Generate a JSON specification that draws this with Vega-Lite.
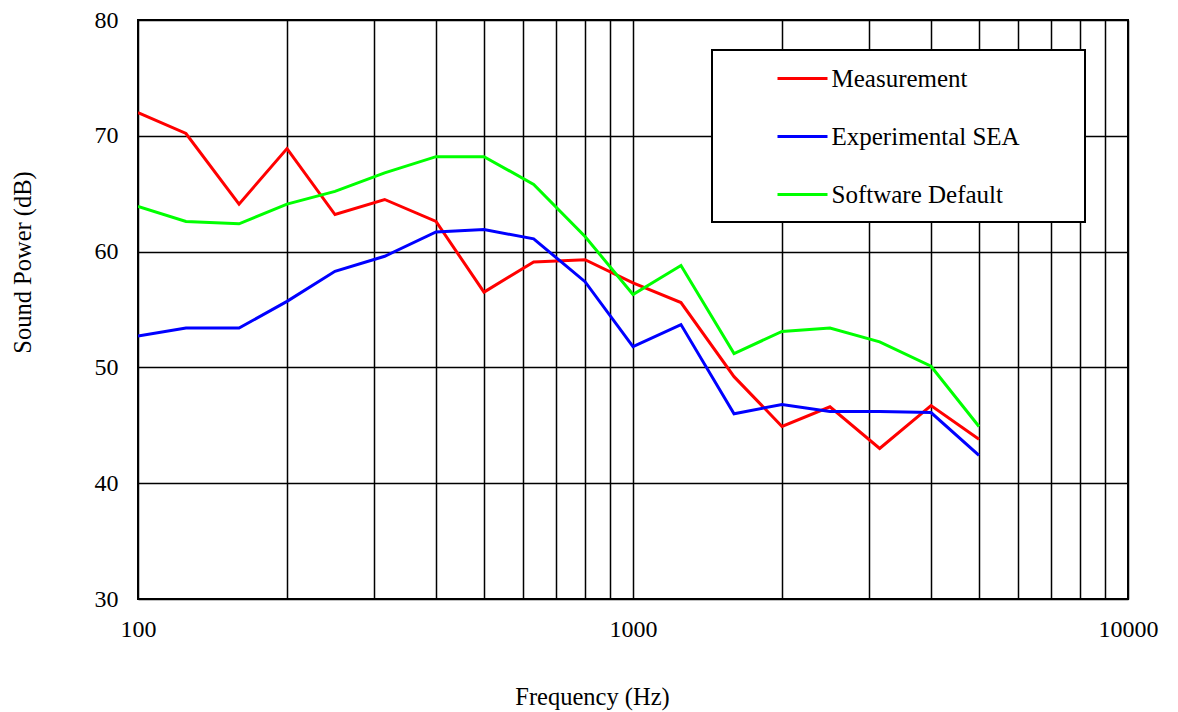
{
  "$schema": "https://vega.github.io/schema/vega-lite/v6.json",
  "width": 990,
  "height": 579,
  "autosize": "none",
  "padding": {"left": 138, "top": 20, "right": 50, "bottom": 113},
  "background": "white",
  "config": {
    "font": "Liberation Serif",
    "view": {"stroke": "black", "strokeWidth": 2},
    "axis": {
      "domain": false,
      "ticks": false,
      "grid": true,
      "gridColor": "black",
      "gridOpacity": 1,
      "gridWidth": 1.5,
      "labelFont": "Liberation Serif",
      "labelFontSize": 24,
      "labelColor": "black",
      "titleFont": "Liberation Serif",
      "titleFontSize": 24.5,
      "titleFontWeight": "normal",
      "titleColor": "black"
    },
    "legend": {
      "labelFont": "Liberation Serif",
      "labelFontSize": 25,
      "labelColor": "black",
      "labelLimit": 500
    }
  },
  "data": {
    "values": [
      {"freq": 100, "series": "Measurement", "value": 72.0},
      {"freq": 125, "series": "Measurement", "value": 70.2},
      {"freq": 160, "series": "Measurement", "value": 64.1},
      {"freq": 200, "series": "Measurement", "value": 68.9},
      {"freq": 250, "series": "Measurement", "value": 63.2},
      {"freq": 315, "series": "Measurement", "value": 64.5},
      {"freq": 400, "series": "Measurement", "value": 62.6},
      {"freq": 500, "series": "Measurement", "value": 56.5},
      {"freq": 630, "series": "Measurement", "value": 59.1},
      {"freq": 800, "series": "Measurement", "value": 59.3},
      {"freq": 1000, "series": "Measurement", "value": 57.3},
      {"freq": 1250, "series": "Measurement", "value": 55.6},
      {"freq": 1600, "series": "Measurement", "value": 49.2},
      {"freq": 2000, "series": "Measurement", "value": 44.9},
      {"freq": 2500, "series": "Measurement", "value": 46.6},
      {"freq": 3150, "series": "Measurement", "value": 43.0},
      {"freq": 4000, "series": "Measurement", "value": 46.7},
      {"freq": 5000, "series": "Measurement", "value": 43.8},
      {"freq": 100, "series": "Experimental SEA", "value": 52.7},
      {"freq": 125, "series": "Experimental SEA", "value": 53.4},
      {"freq": 160, "series": "Experimental SEA", "value": 53.4},
      {"freq": 200, "series": "Experimental SEA", "value": 55.7},
      {"freq": 250, "series": "Experimental SEA", "value": 58.3},
      {"freq": 315, "series": "Experimental SEA", "value": 59.6},
      {"freq": 400, "series": "Experimental SEA", "value": 61.7},
      {"freq": 500, "series": "Experimental SEA", "value": 61.9},
      {"freq": 630, "series": "Experimental SEA", "value": 61.1},
      {"freq": 800, "series": "Experimental SEA", "value": 57.4},
      {"freq": 1000, "series": "Experimental SEA", "value": 51.8},
      {"freq": 1250, "series": "Experimental SEA", "value": 53.7},
      {"freq": 1600, "series": "Experimental SEA", "value": 46.0},
      {"freq": 2000, "series": "Experimental SEA", "value": 46.8},
      {"freq": 2500, "series": "Experimental SEA", "value": 46.2},
      {"freq": 3150, "series": "Experimental SEA", "value": 46.2},
      {"freq": 4000, "series": "Experimental SEA", "value": 46.1},
      {"freq": 5000, "series": "Experimental SEA", "value": 42.4},
      {"freq": 100, "series": "Software Default", "value": 63.9},
      {"freq": 125, "series": "Software Default", "value": 62.6},
      {"freq": 160, "series": "Software Default", "value": 62.4},
      {"freq": 200, "series": "Software Default", "value": 64.1},
      {"freq": 250, "series": "Software Default", "value": 65.2},
      {"freq": 315, "series": "Software Default", "value": 66.8},
      {"freq": 400, "series": "Software Default", "value": 68.2},
      {"freq": 500, "series": "Software Default", "value": 68.2},
      {"freq": 630, "series": "Software Default", "value": 65.8},
      {"freq": 800, "series": "Software Default", "value": 61.3},
      {"freq": 1000, "series": "Software Default", "value": 56.3},
      {"freq": 1250, "series": "Software Default", "value": 58.8},
      {"freq": 1600, "series": "Software Default", "value": 51.2},
      {"freq": 2000, "series": "Software Default", "value": 53.1},
      {"freq": 2500, "series": "Software Default", "value": 53.4},
      {"freq": 3150, "series": "Software Default", "value": 52.2},
      {"freq": 4000, "series": "Software Default", "value": 50.1},
      {"freq": 5000, "series": "Software Default", "value": 44.9}
    ]
  },
  "mark": {"type": "line", "strokeWidth": 3, "clip": true},
  "encoding": {
    "x": {
      "field": "freq",
      "type": "quantitative",
      "scale": {"type": "log", "domain": [100, 10000], "nice": false},
      "axis": {
        "title": "Frequency (Hz)",
        "values": [100, 200, 300, 400, 500, 600, 700, 800, 900, 1000, 2000, 3000, 4000, 5000, 6000, 7000, 8000, 9000, 10000],
        "format": "d",
        "labelExpr": "(datum.value == 100 || datum.value == 1000 || datum.value == 10000) ? datum.label : ''",
        "labelPadding": 18,
        "labelFlush": false,
        "labelOverlap": false,
        "titlePadding": 44,
        "titleX": 454
      }
    },
    "y": {
      "field": "value",
      "type": "quantitative",
      "scale": {"domain": [30, 80], "nice": false},
      "axis": {
        "title": "Sound Power (dB)",
        "values": [30, 40, 50, 60, 70, 80],
        "labelPadding": 20,
        "titlePadding": 59,
        "titleY": 242
      }
    },
    "color": {
      "field": "series",
      "type": "nominal",
      "scale": {
        "domain": ["Measurement", "Experimental SEA", "Software Default"],
        "range": ["#FF0000", "#0000FF", "#00FF00"]
      },
      "legend": {
        "title": null,
        "orient": "none",
        "legendX": 574,
        "legendY": 30,
        "padding": 14.5,
        "symbolType": "M-2,0H2",
        "symbolSize": 625,
        "symbolStrokeWidth": 3,
        "symbolOffset": 62,
        "labelOffset": 15,
        "rowPadding": 31,
        "strokeColor": "black",
        "fillColor": "white",
        "labelExpr": "datum.label + '        \u200b'",
        "encode": {"legend": {"update": {"strokeWidth": {"value": 2}}}}
      }
    }
  }
}
